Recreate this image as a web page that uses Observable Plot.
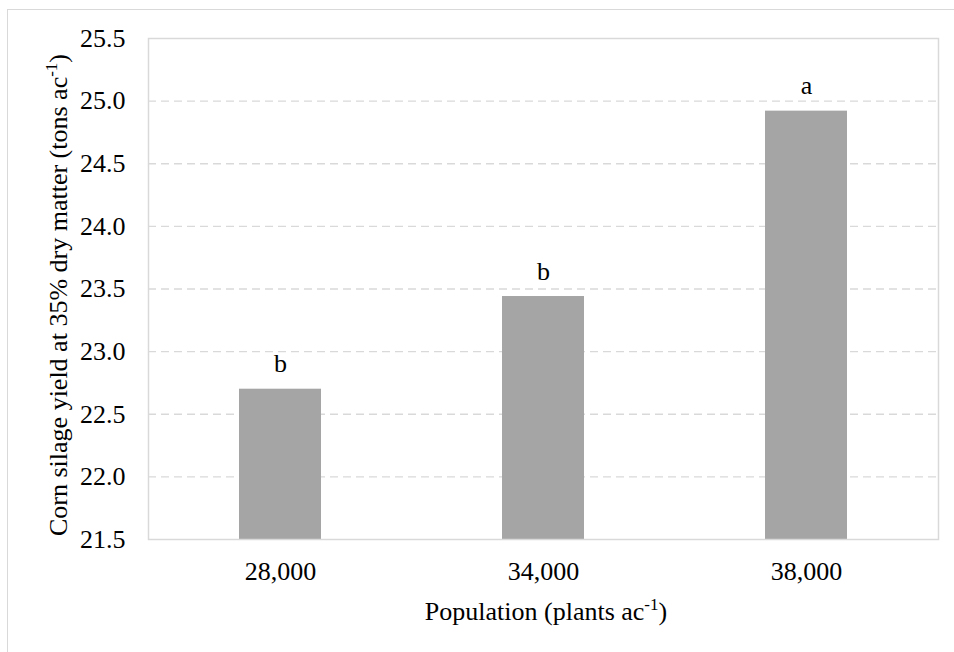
<!DOCTYPE html>
<html>
<head>
<meta charset="utf-8">
<script src="https://cdn.jsdelivr.net/npm/d3@7"></script>
<script src="https://cdn.jsdelivr.net/npm/@observablehq/plot@0.6"></script>
<style>
  html, body { margin: 0; padding: 0; background: #fff; }
  #wrap { position: relative; width: 954px; height: 652px; overflow: hidden; }
  #border { position: absolute; left: 7px; top: 9px; width: 960px; height: 660px;
            border-top: 1.5px solid #d9d9d9; border-left: 1.5px solid #d9d9d9; }
  #chart { position: absolute; left: 0; top: 0; }
  #chart svg, #chart svg text { font-family: "Liberation Serif", "Times New Roman", serif !important; }
</style>
</head>
<body>
<div id="wrap"><div id="border"></div><div id="chart"></div></div>
<script>
const populations = ["28,000", "34,000", "38,000"];
const yields = [22.70, 23.44, 24.92];
const letters = ["b", "b", "a"];
const yTicks = [21.5, 22.0, 22.5, 23.0, 23.5, 24.0, 24.5, 25.0, 25.5];
const gridTicks = [22.0, 22.5, 23.0, 23.5, 24.0, 24.5, 25.0];
const yTitle = ["Corn silage yield at 35% dry matter (tons ac", "-1", ")"];
const xTitle = ["Population (plants ac", "-1", ")"];

const data = populations.map((p, i) => ({pop: p, yield: yields[i], letter: letters[i]}));
const FONT = '"Liberation Serif", "Times New Roman", serif';
const FS = 26;

const chart = Plot.plot({
  width: 954,
  height: 652,
  marginLeft: 148,
  marginTop: 38,
  marginRight: 16,
  marginBottom: 113,
  style: {fontFamily: FONT, fontSize: FS + "px", color: "#000", background: "transparent"},
  x: {domain: populations, paddingInner: 0.688, paddingOuter: 0.344, label: null, tickSize: 0, tickPadding: 22},
  y: {domain: [21.5, 25.5], ticks: yTicks, tickFormat: d3.format(".1f"), label: null, tickSize: 0, tickPadding: 23},
  marks: [
    Plot.ruleY(gridTicks, {stroke: "#d9d9d9", strokeWidth: 1.3, strokeDasharray: "8,5"}),
    Plot.barY(data, {x: "pop", y1: 21.5, y2: "yield", fill: "#a5a5a5"}),
    Plot.frame({stroke: "#d9d9d9", strokeWidth: 1.5}),
    Plot.text(data, {x: "pop", y: "yield", text: "letter", dy: -17, lineAnchor: "bottom", fontSize: FS, fill: "#000"})
  ]
});
document.getElementById("chart").appendChild(chart);

const svg = d3.select(chart);
function title(parts, x, y, rotate) {
  const t = svg.append("text")
    .attr("transform", `translate(${x},${y})` + (rotate ? " rotate(-90)" : ""))
    .attr("text-anchor", "middle")
    .attr("font-family", FONT)
    .attr("font-size", FS)
    .attr("fill", "#000");
  t.append("tspan").text(parts[0]);
  t.append("tspan").attr("font-size", 17).attr("dy", -10).text(parts[1]);
  t.append("tspan").attr("dy", 10).text(parts[2]);
}
title(yTitle, 67, 295, true);
title(xTitle, 546, 620, false);
</script>
</body>
</html>
